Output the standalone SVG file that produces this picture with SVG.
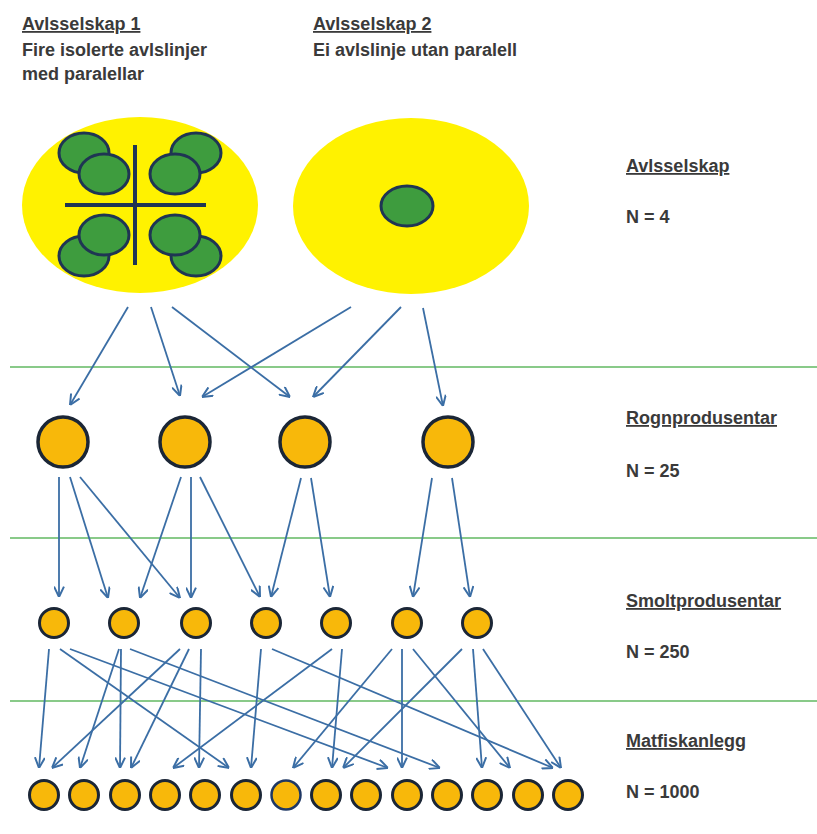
<svg xmlns="http://www.w3.org/2000/svg" width="817" height="834" viewBox="0 0 817 834">
<style>
.t{font-family:"Liberation Sans",Arial,sans-serif;font-size:18px;font-weight:bold;fill:#3a3a3a}
.u{text-decoration:underline}
.sep{stroke:#62b862;stroke-width:1.6}
.g{fill:#3e9c3e;stroke:#1f3553;stroke-width:3}
.bar{stroke:#1f3553;stroke-width:4}
.n{fill:#f8b80a;stroke:#1b2636;stroke-width:3.5}
.s{fill:#f8b80a;stroke:#1b2636;stroke-width:3}
.c line{stroke:#3b6ea5;stroke-width:1.8;marker-end:url(#ah)}
</style>
<defs>
<marker id="ah" viewBox="0 0 10 10" refX="10" refY="5" markerWidth="11" markerHeight="11" markerUnits="userSpaceOnUse" orient="auto">
<path d="M0.5,0.5 L10,5 L0.5,9.5" fill="none" stroke="#3b6ea5" stroke-width="1.8"/>
</marker>
</defs>
<rect width="817" height="834" fill="#ffffff"/>

<g id="titles">
<text class="t u" x="22" y="30">Avlsselskap 1</text>
<text class="t" x="22" y="56">Fire isolerte avlslinjer</text>
<text class="t" x="22" y="80">med paralellar</text>
<text class="t u" x="313" y="30">Avlsselskap 2</text>
<text class="t" x="313" y="56">Ei avlslinje utan paralell</text>
</g>

<g id="labels">
<text class="t u" x="626" y="172">Avlsselskap</text>
<text class="t" x="626" y="223">N = 4</text>
<text class="t u" x="626" y="424">Rognprodusentar</text>
<text class="t" x="626" y="477">N = 25</text>
<text class="t u" x="626" y="607">Smoltprodusentar</text>
<text class="t" x="626" y="658">N = 250</text>
<text class="t u" x="626" y="747">Matfiskanlegg</text>
<text class="t" x="626" y="798">N = 1000</text>
</g>

<g id="separators">
<line class="sep" x1="10" y1="367" x2="817" y2="367"/>
<line class="sep" x1="10" y1="538" x2="817" y2="538"/>
<line class="sep" x1="10" y1="701" x2="817" y2="701"/>
</g>

<g id="avlsselskap1">
<ellipse cx="140" cy="205" rx="118" ry="88" fill="#fff200"/>
<ellipse class="g" cx="84" cy="153" rx="25" ry="20"/>
<ellipse class="g" cx="104" cy="174" rx="25" ry="20"/>
<ellipse class="g" cx="196" cy="153" rx="25" ry="20"/>
<ellipse class="g" cx="175" cy="174" rx="25" ry="20"/>
<ellipse class="g" cx="84" cy="256" rx="25" ry="20"/>
<ellipse class="g" cx="104" cy="235" rx="25" ry="20"/>
<ellipse class="g" cx="196" cy="256" rx="25" ry="20"/>
<ellipse class="g" cx="175" cy="235" rx="25" ry="20"/>
<line class="bar" x1="135" y1="145" x2="135" y2="265"/>
<line class="bar" x1="65" y1="205" x2="206" y2="205"/>
</g>

<g id="avlsselskap2">
<ellipse cx="411" cy="206" rx="118" ry="88" fill="#fff200"/>
<ellipse class="g" cx="407" cy="206" rx="26" ry="20"/>
</g>

<g id="rogn">
<circle class="n" cx="63" cy="442" r="25"/>
<circle class="n" cx="185" cy="442" r="25"/>
<circle class="n" cx="305" cy="442" r="25"/>
<circle class="n" cx="448" cy="442" r="25"/>
</g>

<g id="smolt">
<circle class="s" cx="54" cy="623" r="14.5"/>
<circle class="s" cx="124" cy="623" r="14.5"/>
<circle class="s" cx="196" cy="623" r="14.5"/>
<circle class="s" cx="266" cy="623" r="14.5"/>
<circle class="s" cx="336" cy="623" r="14.5"/>
<circle class="s" cx="407" cy="623" r="14.5"/>
<circle class="s" cx="477" cy="623" r="14.5"/>
</g>

<g id="matfisk">
<circle class="s" cx="44" cy="795" r="14.5"/>
<circle class="s" cx="84" cy="795" r="14.5"/>
<circle class="s" cx="125" cy="795" r="14.5"/>
<circle class="s" cx="165" cy="795" r="14.5"/>
<circle class="s" cx="205" cy="795" r="14.5"/>
<circle class="s" cx="246" cy="795" r="14.5"/>
<circle class="s" cx="286" cy="795" r="14.5" style="stroke:#1f3864;stroke-width:2.5"/>
<circle class="s" cx="326" cy="795" r="14.5"/>
<circle class="s" cx="366" cy="795" r="14.5"/>
<circle class="s" cx="407" cy="795" r="14.5"/>
<circle class="s" cx="447" cy="795" r="14.5"/>
<circle class="s" cx="487" cy="795" r="14.5"/>
<circle class="s" cx="528" cy="795" r="14.5"/>
<circle class="s" cx="568" cy="795" r="14.5"/>
</g>

<g id="connectors" class="c">
<line x1="128" y1="307" x2="70" y2="405"/>
<line x1="151" y1="307" x2="180" y2="396"/>
<line x1="172" y1="307" x2="290" y2="397"/>
<line x1="351" y1="307" x2="202" y2="397"/>
<line x1="401" y1="307" x2="313" y2="397"/>
<line x1="423" y1="308" x2="443" y2="406"/>

<line x1="59" y1="477" x2="59" y2="597"/>
<line x1="70" y1="477" x2="108" y2="598"/>
<line x1="80" y1="477" x2="180" y2="598"/>
<line x1="181" y1="477" x2="140" y2="598"/>
<line x1="191" y1="477" x2="191" y2="598"/>
<line x1="200" y1="477" x2="260" y2="597"/>
<line x1="301" y1="478" x2="271" y2="597"/>
<line x1="311" y1="478" x2="330" y2="597"/>
<line x1="432" y1="478" x2="413" y2="597"/>
<line x1="452" y1="478" x2="470" y2="597"/>

<line x1="49" y1="649" x2="39" y2="768"/>
<line x1="60" y1="649" x2="229" y2="768"/>
<line x1="70" y1="649" x2="388" y2="768"/>
<line x1="119" y1="649" x2="80" y2="768"/>
<line x1="121" y1="649" x2="120" y2="768"/>
<line x1="130" y1="649" x2="440" y2="768"/>
<line x1="180" y1="649" x2="52" y2="768"/>
<line x1="189" y1="649" x2="131" y2="768"/>
<line x1="201" y1="649" x2="199" y2="768"/>
<line x1="261" y1="649" x2="251" y2="768"/>
<line x1="272" y1="649" x2="553" y2="768"/>
<line x1="332" y1="649" x2="173" y2="768"/>
<line x1="342" y1="649" x2="332" y2="768"/>
<line x1="392" y1="649" x2="293" y2="768"/>
<line x1="402" y1="649" x2="402" y2="768"/>
<line x1="413" y1="649" x2="510" y2="768"/>
<line x1="462" y1="649" x2="343" y2="768"/>
<line x1="473" y1="649" x2="482" y2="768"/>
<line x1="483" y1="649" x2="561" y2="768"/>
</g>
</svg>
